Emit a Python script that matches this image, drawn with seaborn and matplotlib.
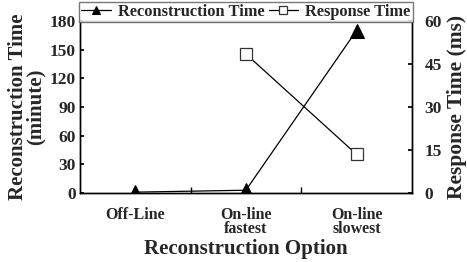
import matplotlib
matplotlib.use("Agg")
import matplotlib.pyplot as plt
import seaborn as sns
import numpy as np

categories = ["Off-Line", "On-line\nfastest", "On-line\nslowest"]
recon_time = [1, 3, 170]
response_time = [np.nan, 48.5, 13.5]
left_ticks = [0, 30, 60, 90, 120, 150, 180]
right_ticks = [0, 15, 30, 45, 60]

sns.set_theme(style="white")
plt.rcParams['font.family'] = ['Liberation Serif', 'DejaVu Serif']
plt.rcParams['font.weight'] = 'bold'

fig = plt.figure(figsize=(4.67, 2.62), dpi=100)
ax = fig.add_axes([0.171, 0.263, 0.711, 0.657])
ax2 = ax.twinx()

xpos = list(range(len(categories)))
sns.lineplot(x=xpos, y=recon_time, ax=ax, color='black', marker='^', markersize=10,
             markeredgecolor='black', markerfacecolor='black', linewidth=0.9,
             label='Reconstruction Time', legend=False)
sns.lineplot(x=xpos, y=response_time, ax=ax2, color='black', marker='s', markersize=9,
             markeredgecolor='#333333', markerfacecolor='white', markeredgewidth=0.9,
             linewidth=0.9, label='Response Time', legend=False)

ax.set_xlim(-0.5, 2.5)
ax.set_ylim(0, 180)
ax2.set_ylim(0, 60)
ax.set_yticks(left_ticks)
ax.set_yticklabels([str(t) for t in left_ticks], fontsize=12.5, fontweight='bold')
ax2.set_yticks(right_ticks)
ax2.set_yticklabels([str(t) for t in right_ticks], fontsize=12.5, fontweight='bold')
ax.set_xticks(xpos)
ax.set_xticklabels(categories, fontsize=11.5, fontweight='bold', linespacing=0.85)
ax.set_xticks([0.5, 1.5], minor=True)
ax.tick_params(axis='x', which='major', length=0, pad=10)
ax.tick_params(axis='x', which='minor', direction='in', length=4, color='black', bottom=True)
ax.tick_params(axis='y', direction='in', length=3, pad=3, left=True, color='black')
ax2.tick_params(axis='y', direction='in', length=3, pad=9, right=True, color='black')

ax.set_xlabel("Reconstruction Option", fontsize=15, fontweight='bold', labelpad=1)
ax.set_ylabel("Reconstruction Time\n(minute)", fontsize=15, fontweight='bold', linespacing=0.8, labelpad=3)
ax2.set_ylabel("Response Time (ms)", fontsize=15.5, fontweight='bold', labelpad=4)

for a in (ax, ax2):
    for s in a.spines.values():
        s.set_color('black')
        s.set_linewidth(1.0)
ax2.spines['top'].set_color('#666666')

h = [ax.lines[0], ax2.lines[0]]
labels = ['Reconstruction Time', 'Response Time']
leg = ax2.legend(h, labels, loc='lower center', bbox_to_anchor=(0.5, 0.995), ncol=2,
                 frameon=True, fancybox=False, edgecolor='#555555',
                 handlelength=1.8, handletextpad=0.45, columnspacing=0.25,
                 borderpad=0.12, borderaxespad=0.0,
                 prop={'weight': 'bold', 'size': 11.8})
for hh in leg.legend_handles:
    hh.set_markersize(6)
leg.get_frame().set_linewidth(1.0)

fig.savefig("out.png", dpi=100)
